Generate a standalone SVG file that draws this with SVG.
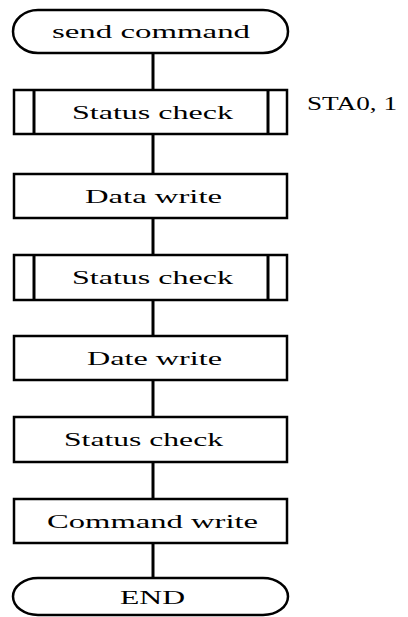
<svg xmlns="http://www.w3.org/2000/svg" width="408" height="617" viewBox="0 0 408 617">
<style>
.shape{fill:#fff;stroke:#000;stroke-width:2.5}
.bar{stroke:#000;stroke-width:3}
.conn{stroke:#000;stroke-width:3;fill:none}
.t{font-family:"Liberation Serif","Times New Roman",serif;font-size:18px;fill:#000}
</style>
<rect width="408" height="617" fill="#fff"/>
<g id="connectors">
<line class="conn" x1="153" y1="53" x2="153" y2="90"/>
<line class="conn" x1="153" y1="134" x2="153" y2="174"/>
<line class="conn" x1="153" y1="218" x2="153" y2="255"/>
<line class="conn" x1="153" y1="300" x2="153" y2="336"/>
<line class="conn" x1="153" y1="380" x2="153" y2="417"/>
<line class="conn" x1="153" y1="462" x2="153" y2="499"/>
<line class="conn" x1="153" y1="543" x2="153" y2="578"/>
</g>
<g id="start">
<rect class="shape" x="13" y="10" width="275" height="43" rx="25" ry="21.5"/>
<text class="t" x="52" y="38" textLength="198" lengthAdjust="spacingAndGlyphs">send command</text>
</g>
<g id="status1">
<rect class="shape" x="14" y="90" width="273" height="44"/>
<line class="bar" x1="34" y1="90" x2="34" y2="134"/>
<line class="bar" x1="268" y1="90" x2="268" y2="134"/>
<text class="t" x="72" y="119" textLength="161" lengthAdjust="spacingAndGlyphs">Status check</text>
</g>
<g id="note">
<text class="t" x="307" y="110" textLength="90" lengthAdjust="spacingAndGlyphs">STA0, 1</text>
</g>
<g id="datawrite">
<rect class="shape" x="14" y="174" width="273" height="44"/>
<text class="t" x="85" y="203" textLength="137" lengthAdjust="spacingAndGlyphs">Data write</text>
</g>
<g id="status2">
<rect class="shape" x="14" y="255" width="273" height="45"/>
<line class="bar" x1="34" y1="255" x2="34" y2="300"/>
<line class="bar" x1="268" y1="255" x2="268" y2="300"/>
<text class="t" x="72" y="284" textLength="161" lengthAdjust="spacingAndGlyphs">Status check</text>
</g>
<g id="datewrite">
<rect class="shape" x="14" y="336" width="273" height="44"/>
<text class="t" x="87" y="365" textLength="135" lengthAdjust="spacingAndGlyphs">Date write</text>
</g>
<g id="status3">
<rect class="shape" x="14" y="417" width="273" height="45"/>
<text class="t" x="64" y="446" textLength="159" lengthAdjust="spacingAndGlyphs">Status check</text>
</g>
<g id="commandwrite">
<rect class="shape" x="14" y="499" width="273" height="44"/>
<text class="t" x="47" y="528" textLength="211" lengthAdjust="spacingAndGlyphs">Command write</text>
</g>
<g id="end">
<rect class="shape" x="13" y="578" width="275" height="37" rx="25" ry="18.5"/>
<text class="t" x="120" y="604" textLength="65" lengthAdjust="spacingAndGlyphs">END</text>
</g>
</svg>
